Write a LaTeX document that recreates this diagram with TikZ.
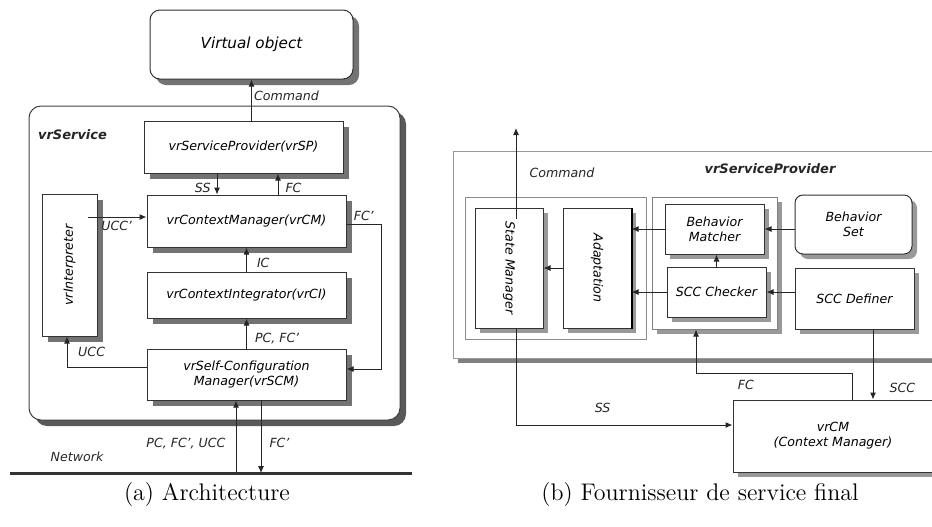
\documentclass[tikz,border=0pt]{standalone}
\usepackage{fontspec}
\newfontfamily\dvs{DejaVu Sans}
\usetikzlibrary{arrows.meta,shadows}
\newcommand\lblfont{\dvs\itshape\fontsize{6.3}{7.6}\selectfont}

\begin{document}
\begin{tikzpicture}[x=0.5pt,y=-0.5pt,>={Latex[length=3.5pt,width=3pt]},
    box/.style={draw=black!80,fill=white,line width=.5pt,inner sep=1pt,align=center,font=\lblfont},
    shA/.style={drop shadow={shadow xshift=3pt,shadow yshift=-3pt,fill=black!55,opacity=1}},
    shB/.style={drop shadow={shadow xshift=2.5pt,shadow yshift=-2.5pt,fill=black!40,opacity=1}},
    lbl/.style={font=\lblfont,inner sep=1pt,text=black!85},
    flow/.style={->,draw=black!85,line width=.5pt}]
  \useasboundingbox (0,0) rectangle (932,526);
  \clip (0,0) rectangle (932,526);

  % (a) architecture
  \node[box,shA,rounded corners=5pt,minimum width=101.5pt,minimum height=34.5pt,font=\dvs\itshape\fontsize{7.6}{9}\selectfont] (vobj) at (251.5,44.5) {Virtual object};
  \node[box,draw=black!75,rounded corners=6pt,minimum width=185.5pt,minimum height=157pt,drop shadow={shadow xshift=3pt,shadow yshift=-3pt,fill=black!65,opacity=1}] (svc) at (214.5,263) {};
  \node[lbl,font=\dvs\bfseries\itshape\fontsize{6.5}{8}\selectfont] (svct) at (72.5,135) {vrService};
  \node[box,shA,minimum width=99.5pt,minimum height=26pt] (sp) at (243.5,147) {vrServiceProvider(vrSP)};
  \node[box,shA,minimum width=99.5pt,minimum height=26pt] (cm) at (246.5,221) {vrContextManager(vrCM)};
  \node[box,shA,minimum width=99.5pt,minimum height=23pt] (ci) at (246.5,295) {vrContextIntegrator(vrCI)};
  \node[box,shA,minimum width=99.5pt,minimum height=25.5pt] (scm) at (246.5,374.5) {vrSelf-Configuration\\Manager(vrSCM)};
  \node[box,shA,minimum width=27.5pt,minimum height=71pt] (interp) at (69.5,265) {\rotatebox{90}{vrInterpreter}};

  \coordinate (gSS) at (217,0);
  \coordinate (gFC) at (278,0);
  \coordinate (gU) at (88,217);
  \coordinate (gF) at (381,224);
  \coordinate (gFb) at (381,369);
  \coordinate (gUC) at (67,367);
  \coordinate (netL) at (10,473);
  \coordinate (netR) at (412,473);
  \coordinate (gN1) at (236,473);
  \coordinate (gN2) at (261,473);

  \draw[flow] (sp.north -| vobj.south) -- (vobj.south) node[lbl,right,pos=.6] {Command};
  \draw[flow] (sp.south -| gSS) -- (cm.north -| gSS) node[lbl,left=2pt,pos=.68] {SS};
  \draw[flow] (cm.north -| gFC) -- (sp.south -| gFC) node[lbl,right=2.5pt,pos=.32] {FC};
  \draw[flow] (gU) -- (gU -| cm.west) node[lbl,below=1pt,pos=.49] {UCC’};
  \draw[flow] (cm.east |- gF) -- node[lbl,above=.5pt] {FC’} (gF) -- (gFb) -- (gFb -| scm.east);
  \draw[flow] (ci.north) -- (cm.south) node[lbl,right=4pt,pos=.36] {IC};
  \draw[flow] (scm.north) -- (ci.south) node[lbl,right=3pt,pos=.32] {PC, FC’};
  \draw[flow] (scm.west |- gUC) -- node[lbl,above=4pt,pos=.69] {UCC} (gUC) -- (gUC |- interp.south);
  \draw[line width=1.5pt,black!80] (netL) -- (netR);
  \draw[flow] (gN1) -- (gN1 |- scm.south) node[lbl,left=4pt,pos=.41] {PC, FC’, UCC};
  \draw[flow] (gN2 |- scm.south) -- (gN2) node[lbl,right=3pt,pos=.59] {FC’};
  \node[lbl] (nett) at (77,457) {Network};

  % (b) service provider
  \node[box,draw=black!40,minimum width=241pt,minimum height=103.5pt,drop shadow={shadow xshift=2.5pt,shadow yshift=-2.5pt,fill=black!50,opacity=1}] (spv) at (694,254.5) {};
  \node[lbl,font=\dvs\bfseries\itshape\fontsize{6.5}{8}\selectfont] (spvt) at (770,169) {vrServiceProvider};
  \node[lbl] (cmdt) at (562,173) {Command};
  \node[box,draw=black!45,fill=none,minimum width=90.5pt,minimum height=71pt] (leftc) at (555.5,268) {};
  \node[box,draw=black!50,shB,minimum width=62.5pt,minimum height=66pt] (rightc) at (714.5,263) {};
  \node[box,shB,minimum width=34pt,minimum height=60pt] (stm) at (509,268) {\rotatebox{-90}{State Manager}};
  \node[box,shB,minimum width=34pt,minimum height=60pt] (adp) at (597,268) {\rotatebox{-90}{Adaptation}};
  \draw[line width=1pt] (adp.north east) -- (adp.south east);
  \node[box,shB,minimum width=49.5pt,minimum height=25pt] (bm) at (714.5,229) {Behavior\\Matcher};
  \node[box,shB,minimum width=49.5pt,minimum height=25pt] (scc) at (716.5,292) {SCC Checker};
  \node[box,shB,rounded corners=4pt,minimum width=58.5pt,minimum height=29.5pt] (bset) at (853.5,224.5) {Behavior\\Set};
  \node[box,shB,minimum width=59.5pt,minimum height=30.5pt] (sccd) at (854.5,298.5) {SCC Definer};
  \node[box,shB,minimum width=100pt,minimum height=36pt] (vrcm) at (833,436) {vrCM\\(Context Manager)};

  \coordinate (gC) at (516,219);
  \coordinate (gCt) at (516,128);
  \coordinate (gS) at (873,0);
  \coordinate (gF1) at (852,373);
  \coordinate (gF2) at (696,373);
  \coordinate (gSS2) at (516,425);

  \draw[flow] (gC) -- (gCt);
  \draw[flow] (adp.west) -- (stm.east);
  \draw[flow] (bm.west) -- (bm.west -| adp.east);
  \draw[flow] (scc.west) -- (scc.west -| adp.east);
  \draw[flow] (scc.north) -- (scc.north |- bm.south);
  \draw[flow] (bm.east -| bset.west) -- (bm.east);
  \draw[flow] (scc.east -| sccd.west) -- (scc.east);
  \draw[flow] (sccd.south -| gS) -- (vrcm.north -| gS) node[lbl,right=7pt,pos=.83] {SCC};
  \draw[flow] (vrcm.north -| gF1) -- (gF1) -- node[lbl,below=2.5pt,pos=.68] {FC} (gF2) -- (gF2 |- rightc.south);
  \draw[flow] (stm.south -| gSS2) -- (gSS2) -- node[lbl,above=5pt,pos=.4] {SS} (gSS2 -| vrcm.west);

  \node[font=\fontsize{12}{14}\selectfont] (capa) at (207,495) {(a) Architecture};
  \node[font=\fontsize{12}{14}\selectfont] (capb) at (700,495) {(b) Fournisseur de service final};
\end{tikzpicture}
\end{document}
